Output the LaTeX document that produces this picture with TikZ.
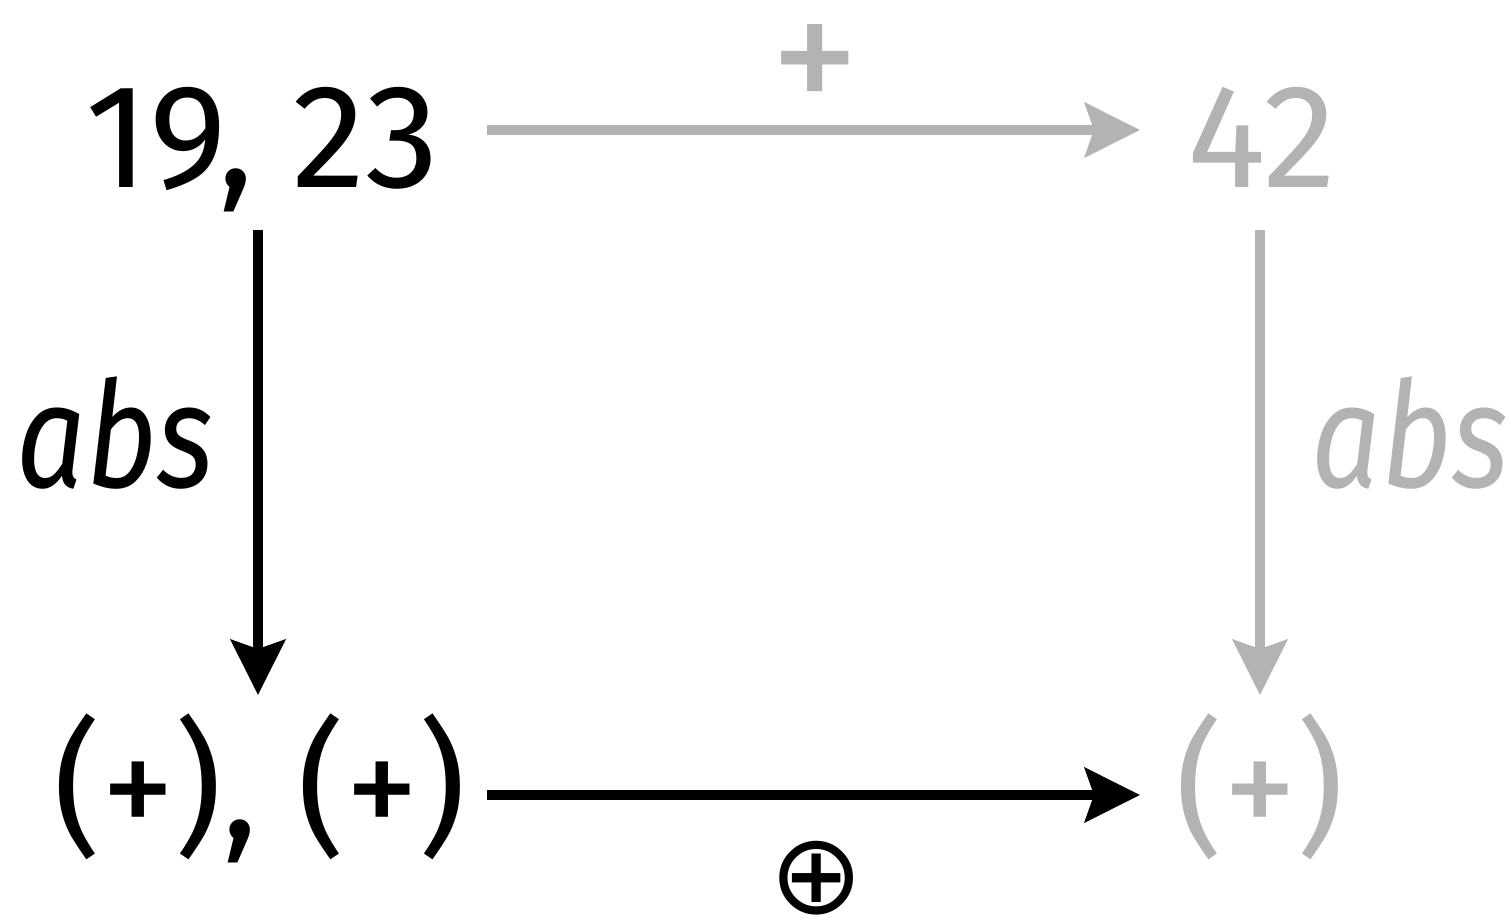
\documentclass[tikz,border=0pt]{standalone}
\usepackage{fontspec}
\setmainfont{Fira Sans}
\newfontfamily\symfont{DejaVu Sans}
\usetikzlibrary{arrows.meta}
\definecolor{lightg}{HTML}{B3B3B3}
\tikzset{
  big/.style={inner sep=0pt, anchor=base, font=\fontsize{84}{90}\selectfont},
  lbl/.style={inner sep=0pt, anchor=base, font=\fontsize{84}{90}\selectfont\itshape, xscale=0.83, transform shape},
  arr/.style={line width=0.2cm, -{Stealth[length=1.1cm, width=1.08cm, inset=0.18cm]}},
}
\begin{document}
\begin{tikzpicture}[x=0.02cm, y=-0.02cm]
\useasboundingbox (0,0) rectangle (1511,920);
% main nodes
\node[big] (a) at (262,187) {19, 23};
\node[big, text=lightg] (b) at (1262,187) {42};
\node[big] (c) at (260,838) {(+), (+)};
\node[big, text=lightg] (d) at (1260,838) {(+)};
% labels
\node[inner sep=0pt, text=lightg, font=\fontsize{102}{110}\selectfont] (plus) at (815,71) {+};
\node[lbl] (absl) at (115,487) {abs};
\node[lbl, text=lightg] (absr) at (1410,487) {abs};
\node[inner sep=0pt, font=\symfont\fontsize{64}{70}\selectfont] (oplus) at (817,878) {⊕};
% connector ends
\coordinate (ab1) at (487,130); \coordinate (ab2) at (1140,130);
\coordinate (ac1) at (258,230); \coordinate (ac2) at (258,695);
\coordinate (bd1) at (1260,230); \coordinate (bd2) at (1260,695);
\coordinate (cd1) at (487,795); \coordinate (cd2) at (1140,795);
\draw[arr, lightg] (ab1) -- (ab2);
\draw[arr, black] (ac1) -- (ac2);
\draw[arr, lightg] (bd1) -- (bd2);
\draw[arr, black] (cd1) -- (cd2);
\end{tikzpicture}
\end{document}
